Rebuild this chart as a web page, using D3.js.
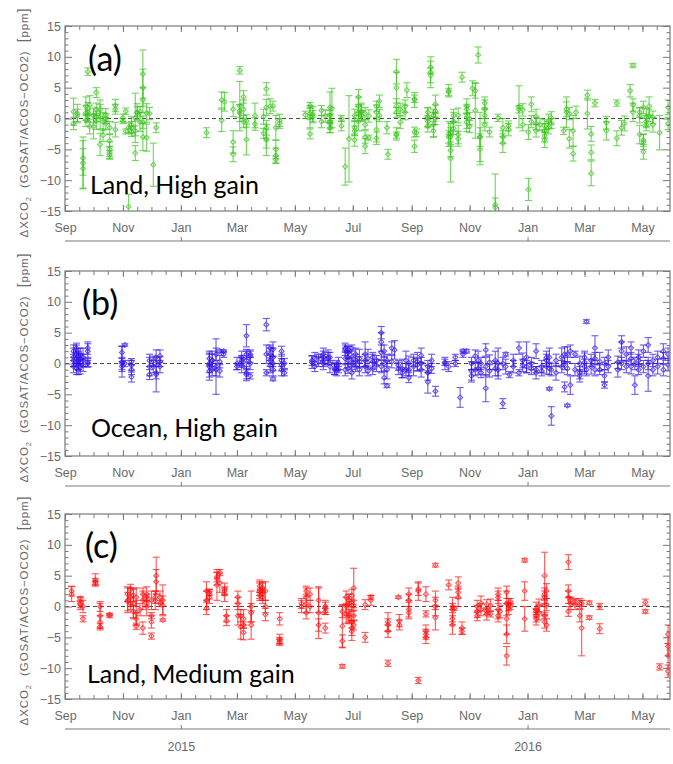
<!DOCTYPE html>
<html>
<head>
<meta charset="utf-8">
<script src="https://cdn.jsdelivr.net/npm/d3@7"></script>
<style>
  body { margin: 0; background: #fff; }
  svg { display: block; }
</style>
</head>
<body>
<svg id="svg" width="673" height="764"></svg>
<script>
// (a) Land, High gain : one date, several soundings (value, error)
const landHighDates = ["2014-09-10","2014-09-14","2014-09-20","2014-09-23","2014-09-25","2014-09-27","2014-10-01","2014-10-04","2014-10-08","2014-10-11","2014-10-14","2014-10-18","2014-10-24","2014-11-01","2014-11-04","2014-11-07","2014-11-10","2014-11-14","2014-11-16","2014-11-19","2014-11-22","2014-11-26","2014-11-29","2014-12-03","2014-12-06","2015-01-28","2015-02-13","2015-02-16","2015-02-25","2015-03-04","2015-03-08","2015-03-11","2015-03-20","2015-03-29","2015-04-01","2015-04-05","2015-04-08","2015-04-11","2015-04-15","2015-05-12","2015-05-17","2015-05-20","2015-05-29","2015-06-02","2015-06-07","2015-06-09","2015-06-19","2015-06-23","2015-06-27","2015-07-03","2015-07-07","2015-07-10","2015-07-14","2015-07-18","2015-07-26","2015-07-29","2015-08-06","2015-08-07","2015-08-16","2015-08-20","2015-08-25","2015-08-27","2015-09-04","2015-09-06","2015-09-18","2015-09-21","2015-09-24","2015-09-26","2015-10-10","2015-10-12","2015-10-15","2015-10-20","2015-10-24","2015-10-29","2015-11-01","2015-11-04","2015-11-07","2015-11-10","2015-11-12","2015-11-17","2015-11-22","2015-11-28","2015-12-01","2015-12-06","2015-12-12","2015-12-23","2015-12-27","2016-01-02","2016-01-05","2016-01-10","2016-01-14","2016-01-19","2016-01-23","2016-01-26","2016-02-08","2016-02-11","2016-02-14","2016-02-18","2016-02-21","2016-03-04","2016-03-08","2016-03-12","2016-03-24","2016-04-04","2016-04-09","2016-04-12","2016-04-18","2016-04-21","2016-04-28","2016-05-02","2016-05-05","2016-05-08","2016-05-12","2016-05-19","2016-05-28"];
const landHighValues = [[1.1,-0.8],[0.8,0.5],[-6.4,-7.2,-8.1],[2.0,0.9,-0.3],[7.6,1.0,0.5],[-1.3,2.2],[-1.3,0.5],[1.5,0.3,4.2,-0.5],[-4.2,0.3,1.5],[-0.5,-2.7],[0.6,-0.8,0],[-3.6,-5.0,-5.5,-5.9,-1.5],[2.1,1.5,-1.8],[0.1,-0.4],[1.2,-2.1],[-14.3,-1.5],[-1.5,-2.1,-1.0],[0.1,-2.0,-5.6],[1.0,0.9],[-0.6,1.1],[7.2,5.0,3.0,-3.0,-0.6],[-3.1,0.9],[0.8],[-7.5],[-1.5],[-2.3],[-0.3,3.0],[2.7],[1.5,-3.8,-5.8],[7.8,1.2,2.0,0.9],[3.5,1.5,-0.5],[-3.4,-0.4],[0.5,-0.9],[-2.4,0.3],[4.8,-3.3,-3.5,-1.5,1.8],[2.0],[2.0],[-5.0,-6.0,-6.7,-1.5],[-0.3,-0.8],[0.6],[2.1,0.8,-2.5,0.3],[0.7,0.3],[-0.5,1.3],[0.4],[-0.5,-0.8,-1.5,1.8,0.5],[1.7],[0,-1.2],[-7.8],[-3.3],[0.5,-1.5,-3.5,-2.0],[3.5,2.0,1.0,-0.5],[1.2,0.5,1.0],[-4.5,-3.0,0.8,-1.0],[-3.1,0.4],[2.0,1.0,-1.8,-3.2],[2.8,0.5],[-1.5],[-5.8],[2.0,1.0,7.6,5.0,-2.5,-2.7],[-0.6,1.5],[1.0,2.0],[4.6],[3.0,3.2,-2.2,-4.5],[-2.3],[-1.2,0.2,-0.5,1.0],[7.5,7.0,8.3],[-1.0,0.5,-2.0],[2.3,1.2,0],[4.5,4.3,-3.0,-2.5],[-3.0,-6.5,-5.2,-2.3],[-0.5,0.5,-1.6],[-2.6,0.5,-3.3],[6.7],[-0.6,1.5,0.2,2.0],[-1.3,0],[4.9],[4.5,1.3],[10.3],[-3.0,-5.0,-3.0],[2.5,0.5,1.5,-1.0],[-2.2],[-14.0,-14.4],[0.1],[-1.5,-4.0,-3.0],[-1.8,-1.2],[1.9,1.5],[1.4,-1.0],[-11.5,-2.2],[2.3,-0.5],[-2.0,-0.8,0.3],[-1.0],[-2.0,-3.5,-1.2,-2.8],[-0.5,-1.5],[0.1,-0.8],[-2.0],[1.5,1.0],[-3.3,0.8],[-5.7,-2.0],[1.0],[3.8,0.8],[-8.9,-5.5,-2.5],[2.5],[-0.7,-2.0],[-3.2,2.5],[-1.5],[-0.8],[4.5],[8.6,2.2,1.0],[1.0,0.5,-2.6],[-3.5,-3.8,-5.4,1.8],[-1.0,0.2,-0.5],[2.0,0.5],[-1.0,0.2],[-2.3],[1.8,-0.8]];
const landHighErrors = [[2.2,1.0],[1.5,1.0],[2.8,4.2,3.2],[1.5,1.2,1.0],[0.6,1.6,1.0],[1.2,1.5],[2.0,1.2],[1.0,0.8,0.8,1.3],[1.8,2.0,1.5],[1.5,1.0],[1.0,1.0,0.8],[1.0,1.2,1.0,0.7,1.0],[1.0,0.8,1.2],[0.6,0.4],[0.5,0.4],[2.0,0.8],[1.0,0.8,1.3],[4.0,0.8,1.2],[1.4,1.0],[1.5,0.8],[3.9,3.0,2.0,2.2,1.0],[2.2,1.5],[1.0],[3.5],[0.8],[0.8],[1.8,1.3],[1.5],[1.2,1.8,1.2],[0.6,1.0,4.0,1.4],[1.0,1.5,1.0],[2.5,1.0],[2.0,1.0],[0.8,1.2],[1.0,1.5,2.5,1.2,1.3],[1.2],[0.8],[1.5,1.2,0.6,2.0],[1.0,0.8],[0.6],[0.5,1.0,0.8,1.8],[1.2,1.0],[1.0,0.8],[1.0],[1.2,1.5,0.8,2.5,0.8],[3.2],[0.5,0.8],[3.0],[7.0],[1.0,1.2,1.0,0.8],[1.2,1.5,1.0,1.5],[1.0,0.8,1.5],[1.2,1.0,1.0,0.8],[0.4,1.0],[0.8,1.2,2.0,1.0],[1.0,1.0],[1.0],[0.8],[1.2,0.8,2.0,2.5,1.0,0.5],[1.0,1.0],[1.2,1.0],[1.2],[1.2,0.6,0.8,1.0],[0.6],[1.0,1.5,1.0,0.8],[2.5,1.2,1.0],[2.0,1.0,1.0],[1.5,1.0,1.0],[1.0,0.6,1.0,2.0],[1.5,3.8,1.0,1.5],[1.5,1.0,1.0],[1.5,1.2,1.2],[0.8],[1.5,0.8,1.8,1.2],[1.0,1.0],[1.2],[1.2,4.5],[1.3],[4.0,2.5,1.5],[1.0,1.2,1.5,1.0],[0.8],[5.0,1.5],[0.6],[1.5,1.5,1.0],[1.0,0.8],[3.4,0.6],[1.0,1.0],[1.8,1.2],[1.2,1.0],[1.0,1.0,1.2],[1.0],[1.2,1.2,1.0,1.0],[1.2,1.0],[1.0,0.8],[0.6],[1.2,2.5],[1.5,1.0],[1.2,2.5],[1.0],[0.8,2.5],[2.0,1.2,1.2],[0.6],[1.0,1.5],[1.2,0.5],[1.2],[1.2],[1.0],[0.3,1.0,1.5],[0.8,1.2,1.5],[1.0,1.2,1.2,1.0],[1.0,1.5,1.0],[1.5,1.0],[1.2,1.0],[2.8],[1.2,1.0]];

// (b) Ocean, High gain
const oceanHighDates = ["2014-09-10","2014-09-13","2014-09-15","2014-09-17","2014-09-20","2014-09-25","2014-10-31","2014-11-03","2014-11-10","2014-11-29","2014-12-03","2014-12-06","2014-12-10","2015-01-31","2015-02-03","2015-02-07","2015-02-11","2015-02-15","2015-03-01","2015-03-06","2015-03-11","2015-03-15","2015-04-01","2015-04-05","2015-04-08","2015-04-17","2015-04-20","2015-05-19","2015-05-22","2015-05-26","2015-05-31","2015-06-05","2015-06-12","2015-06-16","2015-06-07","2015-06-14","2015-06-23","2015-06-26","2015-06-30","2015-07-04","2015-07-08","2015-07-14","2015-07-17","2015-07-22","2015-07-26","2015-07-31","2015-08-03","2015-08-06","2015-08-11","2015-08-14","2015-08-18","2015-08-22","2015-08-26","2015-08-29","2015-09-03","2015-09-07","2015-09-11","2015-09-18","2015-09-22","2015-09-26","2015-10-06","2015-10-10","2015-10-17","2015-10-22","2015-10-25","2015-10-29","2015-11-03","2015-11-07","2015-11-10","2015-11-13","2015-11-18","2015-11-22","2015-11-28","2015-12-01","2015-12-06","2015-12-09","2015-12-13","2015-12-17","2015-12-23","2015-12-27","2015-12-31","2016-01-05","2016-01-10","2016-01-16","2016-01-21","2016-01-24","2016-01-26","2016-01-31","2016-02-06","2016-02-09","2016-02-12","2016-02-15","2016-02-20","2016-02-25","2016-03-01","2016-03-03","2016-03-08","2016-03-12","2016-03-17","2016-03-22","2016-03-26","2016-04-05","2016-04-09","2016-04-14","2016-04-19","2016-04-23","2016-04-27","2016-05-02","2016-05-07","2016-05-12","2016-05-17","2016-05-23","2016-05-28"];
const oceanHighValues = [[1.0,0.5,-0.5,2.0],[1.5,0.8,-0.8,2.5],[1.2,0,-1.0,0.5],[1.5,-0.5,0.8],[0.5,1.0,-0.3],[2.5,2.0,0.2,0],[1.8,0,-0.5,0.3],[3.0,0],[-2.2,-1.0,-0.3,0.3],[-0.5,-1.8,0.5],[-0.5,0.4],[-1.5,-1.8,1.0],[1.2,0.3,-0.5],[-0.5,0.8,-1.2,0],[0.5,0.5,-1.0],[-1.0,-0.5,1.5],[-1.2,0.3,2.0],[1.5,2.0],[0,-0.5],[-0.3,1.0,0.2,0.5],[1.5,0.5,-1.5,4.5,-1.8],[1.2,0,-2.0,1.5],[6.3,1.5,-1.5],[0.5,-0.3,2.5,1.5],[-2.5,0,2.3,-1.0,1.0],[2.0,-0.2,-1.0,0.5],[-1.5,0],[0.5,0.2],[-0.5,0.8],[1.2,0.3],[0.5,1.0,0,1.5],[1.0,0.8],[-1.0,-0.8],[-1.0,0],[1.0,-0.5],[-1.0,-0.3],[0.8,-1.0,2.3,2.5],[1.8,0.5,-0.8,2.3,1.0],[2.5,1.0,0,-1.5],[1.5,0.5,-0.5],[0.8,0.3,-1.0],[-0.5,1.5,0.5],[-1.2,0.8],[-0.8,0.3,1.0],[0.5,-0.3],[5.0,3.5,1.8,-0.5],[2.0,0,-2.3],[0.5,-3.6,-1.0],[2.5,0.3],[2.2],[-0.8,-0.3],[-1.5,-0.8],[0.5,-1.0],[-2.3,0,-1.0],[0.5,-0.5],[-0.2,0.3],[0,-1.0,1.3],[-3.0,-1.5,-0.5],[0.5,-0.8],[-4.5],[0,0.2],[-0.5],[1.0,0],[-5.5],[1.5,2.0],[2.0],[-1.2,0,-2.0],[1.2,-1.0],[0.5,-0.8],[-1.5,0],[2.2,-4.0,-0.5],[0.2,-1.2],[-0.8,0.5],[-1.0,0],[-6.5,0],[1.5,-0.5],[-1.8],[-0.5,0.5],[2.5,-1.5],[0.5,-0.3],[1.0,-0.5],[-0.8,0],[2.0,-1.5,-1.0],[-0.5,-1.2],[0.5,-0.5,1.0],[-4.1,1.0,-0.8],[-8.5,-1.0],[0.5,-1.5],[1.0,-0.5],[-3.8,0,1.5],[-6.8,1.5,-0.8],[-3.5,2.0],[1.5,-1.0],[-1.5,-2.0,0],[-0.5,0.2,1.0],[6.8,-1.0],[-0.5,0.5],[2.5,0.8,-1.0],[-1.0,0.3],[-3.5,-2.0,0],[1.0,-0.5],[0.2,-1.0],[3.5,2.0,0],[-0.5,1.5],[2.5,0.8,-0.5],[-3.5,0],[1.0,-1.0,0.5],[2.0,-0.5],[3.0,-2.0,0],[-1.0,0.5],[1.0,-0.5],[0.8,-1.0,2.0],[1.5,-0.2]];
const oceanHighErrors = [[1.5,1.0,1.0,1.0],[1.5,1.2,1.0,0.8],[1.2,1.0,0.8,1.5],[1.0,1.2,0.8],[1.0,1.5,1.0],[1.0,1.2,0.8,0.5],[1.0,1.0,0.8,2.5],[0.2,0.5],[0.8,0.8,0.8,0.5],[1.5,0.8,1.0],[1.0,0.8],[1.0,2.8,1.2],[1.0,0.8,1.0],[2.2,1.2,1.0,1.5],[1.0,1.5,1.0],[1.0,4.5,1.0],[1.0,1.0,0.2],[0.5,0.2],[1.0,0.5],[1.2,1.0,0.8,0.8],[0.8,1.5,1.0,1.8,1.0],[1.0,1.0,0.5,0.5],[1.0,1.5,0.5],[1.0,1.2,0.5,1.0],[0.3,1.2,1.2,1.0,1.5],[0.8,1.0,1.0,1.0],[0.5,0.8],[0.8,1.0],[0.8,1.0],[0.3,0.8],[1.0,1.0,1.0,1.0],[1.2,1.0],[0.8,1.0],[0.5,1.0],[0.8,1.0],[1.0,0.8],[1.0,1.0,1.0,0.5],[1.0,1.2,0.8,0.5,1.0],[0.5,1.2,1.0,1.0],[1.0,1.0,0.8],[1.5,0.8,1.0],[1.0,2.0,1.0],[0.8,1.5],[1.0,1.2,0.8],[0.8,1.0],[1.0,1.5,1.2,1.0],[1.0,1.2,1.0],[1.0,0.3,1.5],[1.0,1.0],[1.5],[1.0,0.8],[0.8,1.5],[1.5,1.0],[0.8,1.2,1.0],[1.0,1.5],[1.0,1.5],[1.0,1.2,1.2],[1.8,1.2,1.0],[1.0,0.8],[0.8],[1.0,0.5],[0.8],[0.5,0.5],[1.6],[0.5,0.3],[0.3],[1.5,1.0,1.0],[1.0,1.0],[1.5,1.0],[0.8,1.0],[1.0,2.2,1.5],[1.2,1.0],[1.2,1.5],[1.0,2.5],[0.8,1.0],[0.3,1.2],[0.5],[1.0,1.0],[1.0,0.5],[1.2,1.0],[2.5,1.0],[1.0,1.0],[1.2,1.0,0.5],[1.0,0.8],[1.0,1.2,1.0],[0.2,1.5,1.0],[1.5,1.0],[1.0,1.2],[1.5,1.0],[0.8,1.0,1.2],[0.2,1.2,1.0],[1.5,1.0],[0.5,1.0],[1.0,1.0,1.2],[1.2,1.5,1.0],[0.3,1.0],[1.2,1.0],[2.0,1.0,1.0],[0.8,1.5],[0.5,1.0,1.0],[1.2,1.0],[1.0,1.2],[1.0,1.5,1.0],[1.0,1.2],[1.0,1.0,1.2],[1.5,1.0],[1.2,0.8,1.0],[1.0,1.0],[1.2,2.5,1.0],[1.0,1.0],[1.0,1.2],[1.0,1.0,1.2],[1.0,1.0]];

// (c) Land, Medium gain
const landMediumDates = ["2014-09-08","2014-09-17","2014-09-20","2014-10-03","2014-10-08","2014-10-18","2014-11-06","2014-11-09","2014-11-12","2014-11-15","2014-11-19","2014-11-22","2014-11-26","2014-12-01","2014-12-05","2014-12-06","2014-12-10","2014-12-13","2015-01-28","2015-01-31","2015-02-08","2015-02-11","2015-02-16","2015-02-18","2015-03-02","2015-03-05","2015-03-08","2015-03-16","2015-03-25","2015-03-28","2015-03-31","2015-04-15","2015-05-08","2015-05-13","2015-05-17","2015-05-26","2015-06-02","2015-06-20","2015-06-24","2015-06-27","2015-06-30","2015-07-02","2015-07-14","2015-07-20","2015-08-07","2015-08-18","2015-08-19","2015-08-29","2015-09-08","2015-09-16","2015-09-26","2015-10-10","2015-10-14","2015-10-16","2015-10-20","2015-10-24","2015-11-09","2015-11-13","2015-11-19","2015-11-23","2015-12-01","2015-12-03","2015-12-10","2015-12-12","2015-12-14","2015-12-29","2016-01-10","2016-01-13","2016-01-19","2016-01-21","2016-02-13","2016-02-15","2016-02-20","2016-02-25","2016-02-27","2016-03-06","2016-03-17","2016-05-04","2016-05-19","2016-05-28"];
const landMediumValues = [[2.5,2.0],[1.3,0.5,0.3],[-2.0,0],[4.3,3.8,4.0],[-1.5,-2.5,0,-3.3],[-1.5,-1.3],[1.0,0.8,2.0],[1.5,0.5,2.8],[0.5,1.8,-0.8],[-3.2,-2.0,-1.0,1.5],[-0.5],[-3.5,1.0,2.0],[0,2.0,0.5,1.5],[-1.5,-2.5,1.0,-4.8],[1.5,1.0],[5.0,4.0],[1.5,0.5],[-2.2,0.2,1.0],[2.5,1.0,-0.3],[2.0,2.3,1.5],[4.5,3.5,4.8],[3.8,5.5],[2.8,2.0,2.5],[-1.5,-2.3],[1.5,-1.5,0.5],[-3.3,-1.5],[-4.2,-2.0,-3.0],[0,-3.0,-1.0],[2.8,3.3,2.5,1.8],[2.0,2.5,3.0,1.5],[-1.3,0,2.5],[-2.0,-5.3,-5.8,-5.5],[0.5,0],[1.5,2.5,-1.0,0.5],[2.0,0],[1.0,-1.0,-3.0],[-0.3,0,-3.5,-0.8],[-9.7,-0.8,-3.2,-5.6],[0,1.5,-1.2],[1.0,0.5,-1.5,-2.0],[1.8,0.2,-2.5,-4.0,-3.5],[3.0,0.2,-1.5,-3.0],[-5.0,0.3],[1.0,1.5],[-9.2,-2.5,-4.0,-3.0],[1.5],[-2.3,-3.0],[2.0,1.0,-0.5,-1.0],[-12.0,2.5,2.8],[2.0,-1.2,-4.0,-5.0,-4.5],[6.7,1.0,0,-1.8],[3.5],[-0.5,-2.0,-3.0,0],[-0.3],[3.8,1.5,2.3],[-3.5,-4.0],[-0.8,-1.5,0],[0.5,-0.5],[-1.2,0.3,-0.8],[0.2,-1.2],[1.5,-0.5,-1.5,2.0],[-0.8],[-8.0,-4.5,-2.0,2.3,0.5],[0.3,-0.3],[0.8,0],[7.5,2.5,-2.0],[-0.5,-1.5,-2.0,-0.8],[0.2,-1.0],[5.0,2.0,1.5,0.2,-2.5,-1.5],[2.5,0.3,-3.0],[7.2,1.5,2.5,-0.8],[0.5,1.0],[0.3,0.8],[-1.5,0.5],[-3.5,0.5],[0.6,-1.8],[0,-3.6],[0.7,-0.8],[-9.8],[-4.5,-6.5,-8.0,-10.5]];
const landMediumErrors = [[0.8,1.2],[0.3,1.0,0.5],[0.5,1.0],[1.0,0.3,0.5],[2.0,1.0,0.8,0.5],[0.3,0.2],[2.0,1.5,1.2],[1.5,1.0,0.8],[2.5,1.0,1.0],[0.5,1.0,2.0,1.5],[1.0],[1.0,1.5,1.0],[1.5,1.2,0.5,0.5],[0.5,1.0,1.5,0.5],[1.0,1.5],[3.0,2.0],[1.0,0.5],[0.2,1.5,2.5],[1.5,1.5,1.0],[0.8,0.5,1.0],[1.0,2.5,0.8],[1.5,0.5],[1.0,1.2,0.5],[1.0,0.8],[1.0,1.5,1.0],[2.0,1.0],[1.2,1.5,0.5],[2.5,2.3,1.5],[1.0,1.0,1.5,0.5],[1.0,1.5,0.8,1.0],[1.0,1.0,1.5],[1.0,0.8,0.5,0.5],[0.8,1.0],[1.5,0.8,1.0,1.5],[1.0,1.0],[2.0,4.2,1.0],[1.0,1.0,0.8,0.5],[0.3,1.0,3.5,1.0],[1.5,1.0,1.5],[1.0,1.5,1.0,0.8],[1.0,1.0,1.0,1.5,1.2],[3.2,0.8,0.8,0.8],[0.8,0.8],[0.8,0.3],[0.5,1.5,1.0,1.0],[0.2],[1.0,0.8],[1.0,1.0,1.2,1.0],[0.5,1.5,1.0],[1.2,0.5,1.0,1.0,0.8],[0.3,1.5,1.5,2.0],[0.8],[2.0,1.0,1.5,0.5],[0.3],[1.0,1.5,1.0],[1.0,0.5],[1.0,0.8,1.0],[1.2,1.0],[1.0,0.8,0.5],[1.0,0.5],[1.0,1.5,1.0,1.0],[1.0],[1.5,1.5,2.5,1.0,2.0],[1.0,1.0],[0.5,0.5],[0.3,1.5,2.0],[1.2,1.0,1.0,0.5],[1.0,1.2],[3.8,1.0,1.0,1.5,1.0,0.5],[1.2,1.0,1.0],[1.2,1.0,1.0,0.8],[1.0,0.5],[0.8,0.5],[1.0,0.8],[4.5,0.5],[0.3,0.3],[0.5,0.8],[0.5,0.3],[0.5],[1.5,1.5,2.0,1.0]];

// axis ticks and labels
const monthTickDates = ["2014-09-01","2014-11-01","2015-01-01","2015-03-01","2015-05-01","2015-07-01","2015-09-01","2015-11-01","2016-01-01","2016-03-01","2016-05-01"];
const monthTickLabels = ["Sep","Nov","Jan","Mar","May","Jul","Sep","Nov","Jan","Mar","May"];
const yearTickDates = ["2015-01-01","2016-01-01"];
const yearTickLabels = ["2015","2016"];
const yTickValues = [-15, -10, -5, 0, 5, 10, 15];

const parse = d3.timeParse("%Y-%m-%d");
const svg = d3.select("#svg");
const left = 65, right = 670, panelHeight = 185;
const axisColor = "#7a7a7a", labelColor = "#6a6a6a";

const x = d3.scaleTime()
  .domain([parse("2014-09-01"), parse("2016-05-30")])
  .range([left, right]);

// minor x ticks on the 1st and 16th of each month
const minorDates = [];
d3.timeMonth.range(parse("2014-09-01"), parse("2016-06-01")).forEach((m) => {
  minorDates.push(m, d3.timeDay.offset(m, 15));
});
const minorX = minorDates.filter((d) => d <= x.domain()[1]);
const minorY = d3.range(-15, 16).filter((v) => v % 5 != 0);

const panels = [
  { key: "a", top: 26, color: "#36c418", dates: landHighDates, values: landHighValues, errors: landHighErrors,
    tag: "(a)", tagX: 88, tagY: 71, name: "Land, High gain", nameX: 90, nameY: 194, years: false },
  { key: "b", top: 271, color: "#3010e8", dates: oceanHighDates, values: oceanHighValues, errors: oceanHighErrors,
    tag: "(b)", tagX: 82, tagY: 315, name: "Ocean, High gain", nameX: 91, nameY: 437, years: false },
  { key: "c", top: 514, color: "#ff1010", dates: landMediumDates, values: landMediumValues, errors: landMediumErrors,
    tag: "(c)", tagX: 85, tagY: 558, name: "Land, Medium gain", nameX: 87, nameY: 683, years: true },
];

// axis styling helper
function styleAxis(g, showText) {
  g.select(".domain").remove();
  g.selectAll(".tick line").attr("stroke", axisColor);
  g.selectAll(".tick text")
    .attr("fill", labelColor)
    .attr("font-family", "'Liberation Sans', Arial, sans-serif")
    .attr("font-size", 12.5);
  if (!showText) g.selectAll(".tick text").remove();
}

function drawPanel(p) {
  const top = p.top;
  const bottom = top + panelHeight;
  const y = d3.scaleLinear().domain([-15, 15]).range([bottom, top]);
  const g = svg.append("g").attr("class", "panel-" + p.key);

  svg.append("clipPath").attr("id", "clip-" + p.key)
    .append("rect")
    .attr("x", left).attr("y", top)
    .attr("width", right - left).attr("height", panelHeight);

  // zero reference
  g.append("line")
    .attr("x1", left).attr("x2", right)
    .attr("y1", y(0)).attr("y2", y(0))
    .attr("stroke", "#4a4a4a")
    .attr("stroke-width", 1)
    .attr("stroke-dasharray", "4,3");

  // flatten soundings
  const rows = p.dates.flatMap((d, i) =>
    p.values[i].map((v, j) => ({ date: parse(d), value: v, err: p.errors[i][j] }))
  );

  const marks = g.append("g")
    .attr("clip-path", `url(#clip-${p.key})`)
    .attr("stroke", p.color)
    .attr("stroke-width", 1.1)
    .attr("fill", "none");

  const pt = marks.selectAll("g.pt").data(rows).join("g")
    .attr("class", "pt")
    .attr("opacity", 0.7);

  pt.append("line")
    .attr("x1", (d) => x(d.date)).attr("x2", (d) => x(d.date))
    .attr("y1", (d) => y(d.value - d.err)).attr("y2", (d) => y(d.value + d.err));
  pt.append("line")
    .attr("x1", (d) => x(d.date) - 3.5).attr("x2", (d) => x(d.date) + 3.5)
    .attr("y1", (d) => y(d.value + d.err)).attr("y2", (d) => y(d.value + d.err));
  pt.append("line")
    .attr("x1", (d) => x(d.date) - 3.5).attr("x2", (d) => x(d.date) + 3.5)
    .attr("y1", (d) => y(d.value - d.err)).attr("y2", (d) => y(d.value - d.err));
  pt.append("path")
    .attr("d", (d) => {
      const cx = x(d.date), cy = y(d.value);
      return `M${cx},${cy - 2.5}L${cx + 2.5},${cy}L${cx},${cy + 2.5}L${cx - 2.5},${cy}Z`;
    });

  // y axes (ticks pointing inward)
  g.append("g").attr("transform", `translate(${left},0)`)
    .call(d3.axisLeft(y).tickValues(yTickValues).tickSize(-7).tickPadding(4))
    .call((s) => styleAxis(s, true));
  g.append("g").attr("transform", `translate(${left},0)`)
    .call(d3.axisLeft(y).tickValues(minorY).tickSize(-3.5))
    .call((s) => styleAxis(s, false));
  g.append("g").attr("transform", `translate(${right},0)`)
    .call(d3.axisRight(y).tickValues(yTickValues).tickSize(-7))
    .call((s) => styleAxis(s, false));
  g.append("g").attr("transform", `translate(${right},0)`)
    .call(d3.axisRight(y).tickValues(minorY).tickSize(-3.5))
    .call((s) => styleAxis(s, false));

  // x axes
  const majorX = monthTickDates.map(parse);
  g.append("g").attr("transform", `translate(0,${bottom})`)
    .call(d3.axisBottom(x).tickValues(majorX).tickSize(-6).tickPadding(12)
      .tickFormat((d, i) => monthTickLabels[i]))
    .call((s) => styleAxis(s, true));
  g.append("g").attr("transform", `translate(0,${bottom})`)
    .call(d3.axisBottom(x).tickValues(minorX).tickSize(-4))
    .call((s) => styleAxis(s, false));
  g.append("g").attr("transform", `translate(0,${top})`)
    .call(d3.axisTop(x).tickValues(majorX).tickSize(-6))
    .call((s) => styleAxis(s, false));
  g.append("g").attr("transform", `translate(0,${top})`)
    .call(d3.axisTop(x).tickValues(minorX).tickSize(-4))
    .call((s) => styleAxis(s, false));

  // frame
  g.append("rect")
    .attr("x", left).attr("y", top)
    .attr("width", right - left).attr("height", panelHeight)
    .attr("fill", "none")
    .attr("stroke", axisColor)
    .attr("stroke-width", 1.2);

  // year axis below
  const yearAxis = g.append("g").attr("transform", `translate(0,${bottom + 30})`)
    .call(d3.axisBottom(x).tickValues(yearTickDates.map(parse)).tickSize(-4).tickPadding(13)
      .tickFormat((d, i) => yearTickLabels[i]));
  yearAxis.select(".domain")
    .attr("stroke", axisColor)
    .attr("d", `M${left},0H${right}`);
  yearAxis.selectAll(".tick line").attr("stroke", axisColor);
  yearAxis.selectAll(".tick text")
    .attr("fill", labelColor)
    .attr("font-family", "'Liberation Sans', Arial, sans-serif")
    .attr("font-size", 12.5);
  if (!p.years) yearAxis.selectAll(".tick text").remove();

  // y title
  const title = g.append("text")
    .attr("transform", `translate(28,${(top + bottom) / 2 + 4}) rotate(-90)`)
    .attr("text-anchor", "middle")
    .attr("fill", labelColor)
    .attr("font-family", "'Liberation Sans', Arial, sans-serif")
    .attr("font-size", 11.5)
    .attr("letter-spacing", 0.9)
    .style("white-space", "pre");
  title.append("tspan").text("ΔXCO");
  title.append("tspan").attr("font-size", 7.5).attr("dy", 3).text("2");
  title.append("tspan").attr("dy", -3).text("  (GOSAT/ACOS−OCO2)  ");
  title.append("tspan").attr("font-size", 14).text("[");
  title.append("tspan").text("ppm");
  title.append("tspan").attr("font-size", 14).text("]");

  // panel annotations
  g.append("text")
    .attr("x", p.tagX).attr("y", p.tagY)
    .attr("font-family", "Lato, 'Open Sans', sans-serif")
    .attr("font-size", 34)
    .attr("fill", "#000")
    .text(p.tag);
  g.append("text")
    .attr("x", p.nameX).attr("y", p.nameY)
    .attr("font-family", "Lato, 'Open Sans', sans-serif")
    .attr("font-size", 25)
    .attr("fill", "#000")
    .text(p.name);
}

panels.forEach(drawPanel);
</script>
</body>
</html>
